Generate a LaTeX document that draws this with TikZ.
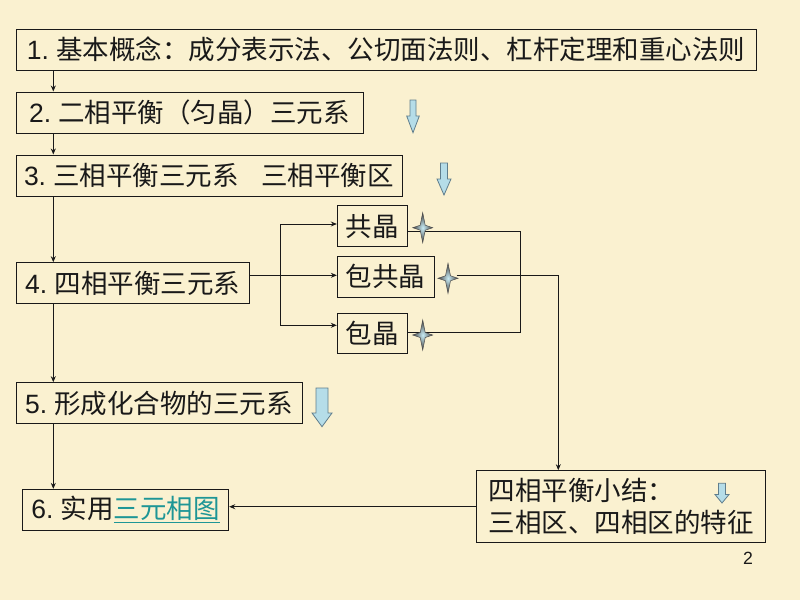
\documentclass[tikz,border=0pt]{standalone}
\usepackage{fontspec}
\setmainfont{Liberation Sans}
\newfontfamily\cjk{Noto Sans CJK SC}
\newfontfamily\latf{Liberation Sans}
\usetikzlibrary{arrows.meta}
\definecolor{bg}{RGB}{250,241,208}
\definecolor{afill}{RGB}{181,221,232}
\definecolor{aline}{RGB}{95,125,140}
\definecolor{linkc}{RGB}{30,150,150}
\newcommand\num[1]{{\latf #1.\ }}
\tikzset{
  box/.style={draw=black!90, line width=1pt, inner sep=0pt, anchor=center,
    font=\fontsize{26.5}{32}\selectfont\cjk, text=black!90},
  conn/.style={line width=0.9pt, draw=black!90},
  tip/.style={-{Stealth[length=6pt,width=5pt]}},
  blockarrow/.style={fill=afill, draw=aline, line width=0.8pt, line join=miter},
  sparkle/.pic={
    \shade[inner color={rgb,255:red,200;green,236;blue,245}, outer color=black!75]
      (0,-15)--(2.5,-2.5)--(10,0)--(2.5,2.5)--(0,15)--(-2.5,2.5)--(-10,0)--(-2.5,-2.5)--cycle;
    \draw[black!70, line width=0.5pt]
      (0,-15)--(2.5,-2.5)--(10,0)--(2.5,2.5)--(0,15)--(-2.5,2.5)--(-10,0)--(-2.5,-2.5)--cycle;
  }
}
\begin{document}
\begin{tikzpicture}[x=1pt,y=-1pt]
\fill[bg] (0,0) rectangle (800,600);
\useasboundingbox (0,0) rectangle (800,600);

% boxes
\node[box, minimum width=740pt, minimum height=40.7pt] (b1) at (386,49.7)
  {\num{1}基本概念：成分表示法、公切面法则、杠杆定理和重心法则};
\node[box, minimum width=347pt, minimum height=41pt] (b2) at (189.5,112.5)
  {\num{2}二相平衡（匀晶）三元系\hspace{0.75em}};
\node[box, minimum width=386pt, minimum height=41pt] (b3) at (209,175.5)
  {\num{3}三相平衡三元系\hspace{0.85em}三相平衡区};
\node[box, minimum width=233.3pt, minimum height=40.6pt] (b4) at (132.7,283)
  {\num{4}四相平衡三元系};
\node[box, minimum width=286pt, minimum height=40.6pt] (b5) at (159,403)
  {\num{5}形成化合物的三元系};
\node[box, minimum width=206pt, minimum height=40.7pt] (b6) at (125.7,509.7)
  {\num{6}实用\textcolor{linkc}{\underline{三元相图}}};
\node[box, minimum width=70pt, minimum height=40.7pt] (gj) at (372.3,226.3) {共晶};
\node[box, minimum width=96.7pt, minimum height=41.3pt] (bgj) at (385.7,276.7) {包共晶};
\node[box, minimum width=70pt, minimum height=40pt] (bj) at (372.3,333.3) {包晶};
\node[box, minimum width=288.6pt, minimum height=72pt, align=left] (b7) at (621,506.7)
  {四相平衡小结：\\三相区、四相区的特征};
\node[font=\fontsize{17.7}{20}\selectfont, text=black!90, inner sep=0pt] (pg) at (748,558) {2};

% helper coordinates
\coordinate (L) at (53.3,0);
\coordinate (jt) at (280.7,224);
\coordinate (jb) at (280.7,325.3);
\coordinate (rt) at (520.7,231.3);
\coordinate (rb) at (520.7,332.7);
\coordinate (s1) at (422.7,227.7);
\coordinate (s2) at (448,278.3);
\coordinate (s3) at (422.7,335);
\coordinate (s2e) at (456.7,275.3);
\coordinate (dr) at (558.3,0);

% main chain
\draw[conn,tip] (b1.south -| L) -- (b2.north -| L);
\draw[conn,tip] (b2.south -| L) -- (b3.north -| L);
\draw[conn,tip] (b3.south -| L) -- (b4.north -| L);
\draw[conn,tip] (b4.south -| L) -- (b5.north -| L);
\draw[conn,tip] (b5.south -| L) -- (b6.north -| L);

% branching to the three reactions
\draw[conn,tip] (b4.east |- s2e) -- (bgj.west |- s2e);
\draw[conn,{Stealth[length=6pt,width=5pt]}-{Stealth[length=6pt,width=5pt]}]
  (jt -| gj.west) -- (jt) -- (jb) -- (jb -| bj.west);

% right-hand joins
\draw[conn] (gj.east |- rt) -- (rt) -- (rb) -- (bj.east |- rb);
\draw[conn,tip] (s2e) -| (dr |- b7.north);
\draw[conn,tip] (b7.west) -- (b7.west -| b6.east);

% sparkles
\pic at (s1) {sparkle};
\pic at (s2) {sparkle};
\pic at (s3) {sparkle};

% block arrows
\draw[blockarrow] (410,100) -- (416,100) -- (416,116) -- (419.3,116) -- (413,132.7)
  -- (406.7,116) -- (410,116) -- cycle;
\draw[blockarrow] (440.5,163) -- (447.5,163) -- (447.5,179) -- (451,179) -- (444,195)
  -- (437,179) -- (440.5,179) -- cycle;
\draw[blockarrow] (316,388) -- (328,388) -- (328,413) -- (332,413) -- (322,426.7)
  -- (312,413) -- (316,413) -- cycle;
\draw[blockarrow] (718.5,483.3) -- (725.5,483.3) -- (725.5,494.5) -- (729,494.5)
  -- (722,503) -- (715,494.5) -- (718.5,494.5) -- cycle;
\end{tikzpicture}
\end{document}
